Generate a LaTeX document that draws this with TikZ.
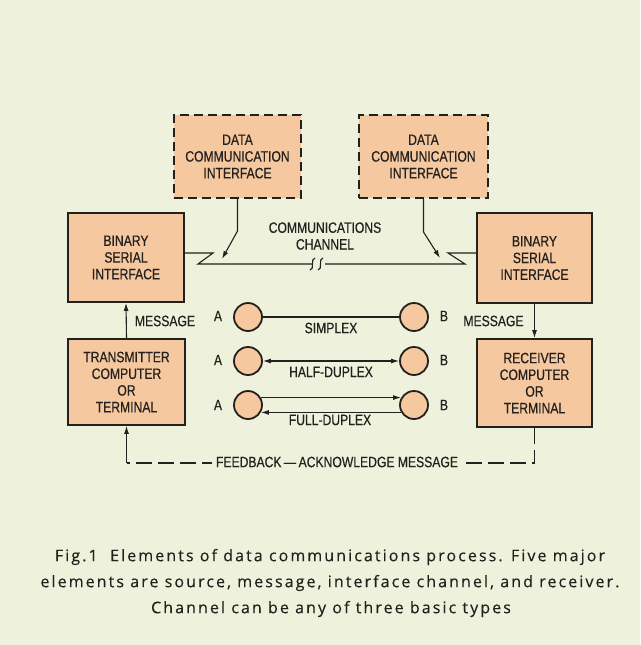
\documentclass[tikz,border=0pt]{standalone}
\usepackage{fontspec}
\setmainfont{Liberation Sans}
\newfontfamily\cond[FakeStretch=0.81,FakeBold=0.5]{Liberation Sans}
\newfontfamily\capfont[LetterSpace=13,FakeBold=0.3]{Open Sans}
\usetikzlibrary{arrows.meta,calc}
\definecolor{paper}{RGB}{238,242,220}
\definecolor{peach}{RGB}{245,200,160}
\definecolor{ink}{RGB}{35,32,30}
\tikzset{
  x=1pt, y=-1pt,
  labelfont/.style={font=\cond\fontsize{15}{16.7}\selectfont, text=ink},
  solidbox/.style={draw=ink, line width=1.8pt, fill=peach, align=center,
    inner sep=0pt, labelfont},
  dashbox/.style={solidbox, dash pattern=on 9pt off 5pt},
  wire/.style={draw=ink, line width=1.1pt},
  tip/.style={-{Latex[length=8pt,width=5pt]}},
  station/.style={circle, draw=ink, line width=1.8pt, fill=peach,
    minimum size=28pt, inner sep=0pt},
  tag/.style={labelfont, inner sep=1pt},
  feed/.style={wire, dash pattern=on 16pt off 6pt},
  captext/.style={font=\capfont\fontsize{16}{18}\selectfont, text=ink, inner sep=0pt}
}
\begin{document}
\begin{tikzpicture}
\fill[paper] (0,0) rectangle (640,645);
\useasboundingbox (0,0) rectangle (640,645);

% interface boxes
\node[dashbox, minimum width=127pt, minimum height=83pt] (dcL) at (237.5,156.5)
  {DATA\\COMMUNICATION\\INTERFACE};
\node[dashbox, minimum width=129pt, minimum height=83pt] (dcR) at (423.5,156.5)
  {DATA\\COMMUNICATION\\INTERFACE};
\node[solidbox, minimum width=116pt, minimum height=89pt] (binL) at (126,257.5)
  {BINARY\\SERIAL\\INTERFACE};
\node[solidbox, minimum width=115pt, minimum height=90pt] (binR) at (534.5,258)
  {BINARY\\SERIAL\\INTERFACE};
\node[solidbox, minimum width=117pt, minimum height=86pt] (tx) at (126.5,382)
  {TRANSMITTER\\COMPUTER\\OR\\TERMINAL};
\node[solidbox, minimum width=115pt, minimum height=88pt] (rx) at (534.5,383)
  {RECEIVER\\COMPUTER\\OR\\TERMINAL};

% communications channel
\coordinate (c1) at (213,253);
\coordinate (c2) at (198,264);
\coordinate (c3) at (312,264);
\coordinate (c4) at (325,264);
\coordinate (c5) at (465,264);
\coordinate (c6) at (448,253);
\draw[wire] (binL.east |- c1) -- (c1) -- (c2) -- (c3);
\draw[wire] (c3) ++(-2,6) .. controls +(5,0) and +(-5,0) .. ++(5,-12);
\draw[wire] (c3) ++(6,6) .. controls +(5,0) and +(-5,0) .. ++(5,-12);
\draw[wire] (c4) -- (c5) -- (c6) -- (binR.west |- c6);
\node[tag, align=center] (chan) at (325,236) {COMMUNICATIONS\\CHANNEL};

% links from data communication interfaces to the channel
\coordinate (kL) at (237.5,231);
\coordinate (tL) at (222,259);
\coordinate (kR) at (423.5,232);
\coordinate (tR) at (440,258);
\draw[wire, tip] (dcL.south) -- (kL) -- (tL);
\draw[wire, tip] (dcR.south) -- (kR) -- (tR);

% message flow
\draw[wire, tip] (tx.north) -- (binL.south);
\draw[wire, tip] (binR.south -| rx.north) -- (rx.north);
\node[tag] (msgL) at (165,321) {MESSAGE};
\node[tag] (msgR) at (493.5,321) {MESSAGE};

% channel types
\node[station] (A1) at (248,317) {};
\node[station] (B1) at (414,317) {};
\node[station] (A2) at (248,361) {};
\node[station] (B2) at (414,361) {};
\node[station] (A3) at (248,405) {};
\node[station] (B3) at (414,405) {};
\foreach \i/\y in {1/316,2/360,3/405}{
  \node[tag] (la\i) at (218,\y) {A};
  \node[tag] (lb\i) at (444,\y) {B};
}
\draw[wire] (A1) -- (B1);
\draw[wire, {Latex[length=8pt,width=5pt]}-{Latex[length=8pt,width=5pt]}] (A2) -- (B2);
\draw[wire, tip] (A3.30) -- (B3.150);
\draw[wire, tip] (B3.-150) -- (A3.-30);
\node[tag] (simplex) at (331,328) {SIMPLEX};
\node[tag] (half) at (331,372) {HALF-DUPLEX};
\node[tag] (full) at (330,420) {FULL-DUPLEX};

% feedback path
\coordinate (f1) at (rx.south |- 0,463);
\coordinate (f2) at (tx.south |- 0,463);
\draw[feed] (rx.south) -- (f1) -- (f2);
\draw[wire, tip] (f2) -- (tx.south);
\node[tag, fill=paper, inner xsep=4pt] (fb) at (337,462)
  {FEEDBACK\,—\,ACKNOWLEDGE MESSAGE};

% caption
\node[captext] (cap1) at (330,557)
  {Fig.1\ \ Elements of data communications process. Five major};
\node[captext] (cap2) at (330,583)
  {elements are source, message, interface channel, and receiver.};
\node[captext] (cap3) at (331,609)
  {Channel can be any of three basic types};
\end{tikzpicture}
\end{document}
